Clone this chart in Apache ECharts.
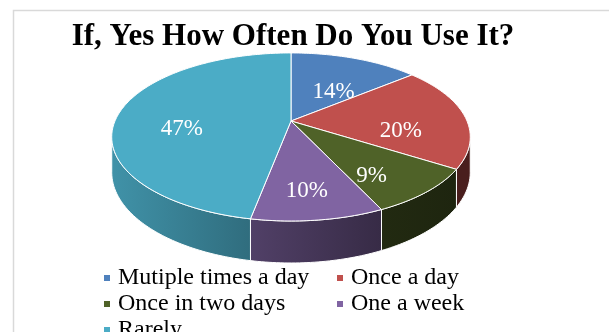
<!DOCTYPE html>
<html>
<head>
<meta charset="utf-8">
<script src="https://cdn.jsdelivr.net/npm/echarts@6/dist/echarts.min.js"></script>
<style>
  html, body { margin: 0; padding: 0; background: #fff; }
  #chart { width: 609px; height: 332px; }
</style>
</head>
<body>
<div id="chart"></div>
<script>
// Survey answers: how often the respondents use it
const categories = ['Mutiple times a day', 'Once a day', 'Once in two days', 'One a week', 'Rarely'];
const shares = [14, 20, 9, 10, 47];
const colors = ['#4F81BD', '#C0504D', '#4F6228', '#8064A2', '#4BACC6'];

// Geometry of the tilted disc (perspective projection of a flat cylinder)
const CX = 291, CY = 121;     // apex of the top face
const RX = 176, RY = 81;      // horizontal / vertical radius factors
const K = 0.19;               // perspective strength
const DEPTH = 34;             // thickness of the disc
const LABEL_R = 0.63, LABEL_DY = 13;

const total = shares.reduce((a, b) => a + b, 0);

function project(deg, r, h) {
  const t = deg * Math.PI / 180;
  const s = Math.sin(t), c = Math.cos(t);
  const d = 1 + K * r * c;
  return [CX + RX * r * s / d, CY - RY * r * c / d + h * DEPTH / d];
}

function shade(hex, f) {
  const n = parseInt(hex.slice(1), 16);
  const r = Math.round(((n >> 16) & 255) * f);
  const g = Math.round(((n >> 8) & 255) * f);
  const b = Math.round((n & 255) * f);
  return 'rgb(' + r + ',' + g + ',' + b + ')';
}

// darker toward the right side of the front wall
function light(x) {
  return Math.max(0.38, 0.85 - 0.45 * (x - 112) / 290);
}

const SIDE_FROM = Math.acos(-K) * 180 / Math.PI;  // visible wall starts here
const SIDE_TO = 360 - SIDE_FROM;

function arc(a, b, r, h) {
  const pts = [];
  const n = Math.max(2, Math.ceil(b - a));
  for (let j = 0; j <= n; j++) pts.push(project(a + (b - a) * j / n, r, h));
  return pts;
}

function makeRender(i) {
  return function (params, api) {
    const v = api.value(0);
    let before = 0;
    for (let j = 0; j < i; j++) before += shares[j];
    const a = before / total * 360;
    const b = (before + v) / total * 360;
    const children = [];

    // front wall
    const sa = Math.max(a, SIDE_FROM), sb = Math.min(b, SIDE_TO);
    if (sb > sa) {
      const top = arc(sa, sb, 1, 0);
      const bottom = arc(sa, sb, 1, 1).reverse();
      const x0 = Math.min(top[0][0], top[top.length - 1][0]);
      const x1 = Math.max(top[0][0], top[top.length - 1][0]);
      children.push({
        type: 'polygon',
        z2: 1,
        shape: { points: top.concat(bottom) },
        style: {
          fill: new echarts.graphic.LinearGradient(x0, 0, x1, 0, [
            { offset: 0, color: shade(colors[i], light(x0)) },
            { offset: 1, color: shade(colors[i], light(x1)) }
          ], true),
          stroke: '#fff',
          lineWidth: 1
        }
      });
    }

    // top face
    children.push({
      type: 'polygon',
      z2: 10,
      shape: { points: [[CX, CY]].concat(arc(a, b, 1, 0)) },
      style: { fill: colors[i], stroke: '#fff', lineWidth: 1 }
    });

    // value label
    const mid = (a + b) / 2;
    const p = project(mid, LABEL_R, 0);
    children.push({
      type: 'text',
      z2: 20,
      x: p[0],
      y: p[1] + LABEL_DY,
      style: {
        text: Math.round(v / total * 100) + '%',
        fill: '#fff',
        font: '23px "Liberation Serif"',
        align: 'center',
        verticalAlign: 'middle'
      }
    });

    return { type: 'group', children: children };
  };
}

const series = categories.map((name, i) => ({
  type: 'custom',
  name: name,
  coordinateSystem: 'none',
  itemStyle: { color: colors[i] },
  renderItem: makeRender(i),
  data: [[shares[i]]],
  silent: true
}));

const legendText = {
  color: '#000',
  fontFamily: 'Liberation Serif',
  fontSize: 24,
  lineHeight: 20,
  padding: [0, 0, 0, 3]
};

function legendColumn(left, names) {
  return {
    orient: 'vertical',
    left: left,
    top: 266,
    width: 230,
    height: 120,
    padding: 0,
    itemGap: 2,
    itemWidth: 6,
    itemHeight: 6,
    icon: 'rect',
    selectedMode: false,
    data: names,
    textStyle: legendText
  };
}

const chart = echarts.init(document.getElementById('chart'));
chart.setOption({
  animation: false,
  color: colors,
  title: {
    text: 'If, Yes How Often Do You Use It?',
    left: 288,
    top: 16,
    textAlign: 'center',
    textStyle: {
      fontFamily: 'Liberation Serif',
      fontWeight: 'bold',
      fontSize: 31,
      color: '#000'
    }
  },
  legend: [
    legendColumn(104, [categories[0], categories[2], categories[4]]),
    legendColumn(337, [categories[1], categories[3]])
  ],
  graphic: [{
    type: 'rect',
    left: 11,
    top: 8,
    shape: { width: 597, height: 340 },
    style: { fill: 'none', stroke: '#D9D9D9', lineWidth: 1.5 },
    silent: true
  }],
  series: series
});
</script>
</body>
</html>
